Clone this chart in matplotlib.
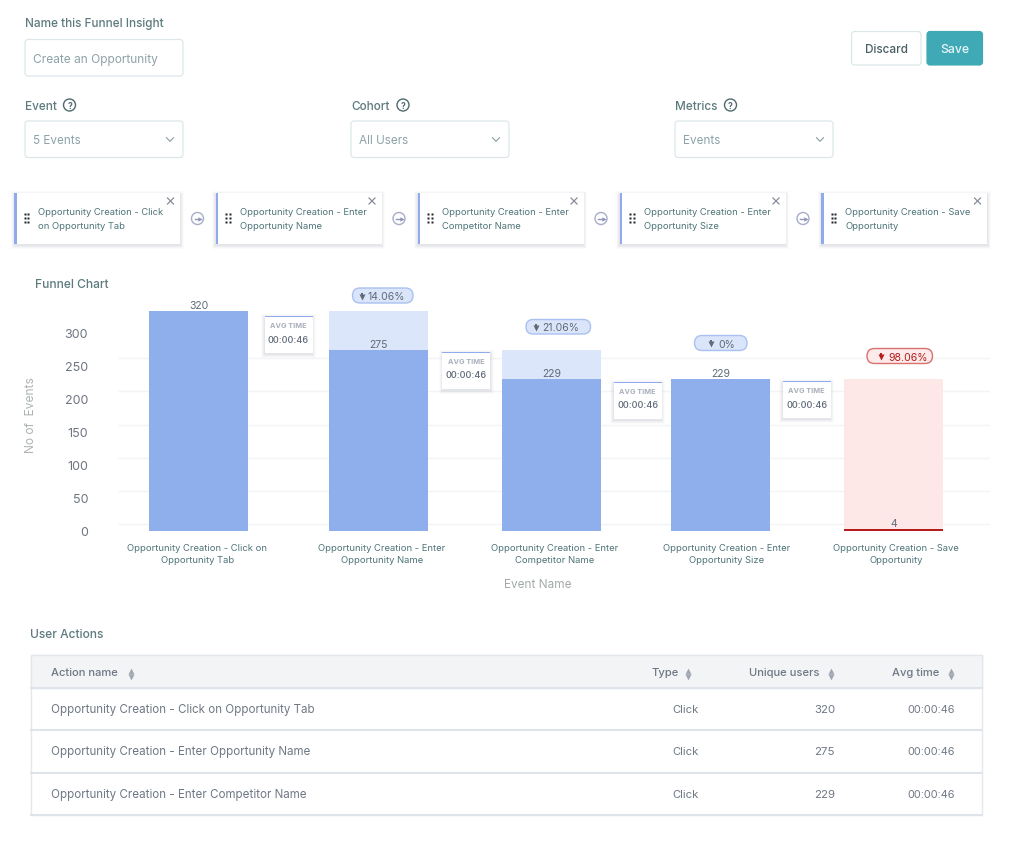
import numpy as np
import matplotlib
matplotlib.use("Agg")
import matplotlib.pyplot as plt
from matplotlib.patches import FancyBboxPatch, Rectangle, Circle
from matplotlib.transforms import ScaledTranslation

plt.rcParams['font.family'] = ['Inter', 'DejaVu Sans']

# ---- data ----
tick_labels = ["Opportunity Creation - Click on\nOpportunity Tab",
               "Opportunity Creation - Enter\nOpportunity Name",
               "Opportunity Creation - Enter\nCompetitor Name",
               "Opportunity Creation - Enter\nOpportunity Size",
               "Opportunity Creation - Save\nOpportunity"]
chip_labels = ["Opportunity Creation - Click\non Opportunity Tab",
               "Opportunity Creation - Enter\nOpportunity Name",
               "Opportunity Creation - Enter\nCompetitor Name",
               "Opportunity Creation - Enter\nOpportunity Size",
               "Opportunity Creation - Save\nOpportunity"]
value_labels = [320, 275, 229, 229, 4]
bar_values = [332, 273, 229, 229, 3]       # heights as read on the y axis
ghost_values = [0, 332, 273, 229, 229]     # previous step, behind each bar
drop_labels = [None, "14.06%", "21.06%", "0%", "98.06%"]
avg_times = ["00:00:46", "00:00:46", "00:00:46", "00:00:46"]
y_ticks = [0, 50, 100, 150, 200, 250, 300]
table_names = ["Opportunity Creation - Click on Opportunity Tab",
               "Opportunity Creation - Enter Opportunity Name",
               "Opportunity Creation - Enter Competitor Name"]
table_types = ["Click", "Click", "Click"]
table_users = [320, 275, 229]
table_times = ["00:00:46", "00:00:46", "00:00:46"]

# ---- colours / layout ----
BLUE, GHOST, PINK, RED = "#8fafec", "#dce6fa", "#fee7e7", "#b51c1c"
LABEL, MUTED, EDGE = "#5d7a7f", "#8da3a8", "#dbe6e9"
SLATE = "#5f6b78"
def fs(px):
    return px * 0.72

fig = plt.figure(figsize=(10.24, 8.53), dpi=100, facecolor="white")

# ---- chart axes ----
ax = fig.add_axes([118/1024, (853-532)/853, 872/1024, 232/853], facecolor="none")
x = np.arange(5)
x_nudge = np.array([0, .032, .029, .004, 0])
label_nudge = np.array([-.009, .053, .05, .036, .013])
ax.set_xlim(-0.465, 4.554)
ax.set_ylim(0, 232/0.6633)
grid_shift = ax.transData + ScaledTranslation(0, 7/100, fig.dpi_scale_trans)
ax.hlines(y_ticks[:-1], -0.465, 4.554, color="#f3f4f5", lw=1, transform=grid_shift, zorder=0)
bw = 0.57
ghost_cols = [GHOST, GHOST, GHOST, GHOST, PINK]
ax.bar(x + x_nudge, ghost_values, bw, color=ghost_cols, zorder=2)
main_cols = [BLUE, BLUE, BLUE, BLUE, RED]
ax.bar(x + x_nudge, bar_values, bw, color=main_cols, zorder=3)
for xi, top, lab in zip(x + x_nudge, bar_values, value_labels):
    ax.annotate(str(lab), (xi, top), xytext=(0, 0.8), textcoords="offset points", ha="center",
                va="bottom", fontsize=fs(10.5), color=SLATE, zorder=5, annotation_clip=False)
for s in ax.spines.values():
    s.set_visible(False)
ax.set_yticks(y_ticks)
ax.tick_params(axis="y", length=0, pad=21.6, labelsize=fs(12.5), labelcolor="#6e7480")
ax.set_xticks(x + label_nudge, tick_labels, fontsize=fs(9.45), color="#4f7479", linespacing=1.48)
ax.tick_params(axis="x", length=0, pad=8.5)

# ---- overlay in pixel coordinates ----
ov = fig.add_axes([0, 0, 1, 1], facecolor="none")
ov.set_xlim(0, 1024)
ov.set_ylim(852, -1)
ov.axis("off")

def T(xp, yp, s, size=12, color=LABEL, ha="left", weight="normal", **kw):
    ov.text(xp, yp + 0.5, s, fontsize=fs(size), color=color, ha=ha, va="center", weight=weight, **kw)

def box(x0, y0, x1, y1, fc="white", ec=EDGE, lw=0.85, r=3, z=2):
    ov.add_patch(FancyBboxPatch((x0, y0), x1-x0, y1-y0, boxstyle=f"round,pad=0,rounding_size={r}",
                                fc=fc, ec=ec, lw=lw, zorder=z, mutation_aspect=1))

def shadow(x0, y0, x1, y1, z=3):
    for g, a in [(3.5, .025), (2.5, .035), (1.5, .05), (0.5, .06)]:
        ov.add_patch(Rectangle((x0-g, y0-g+1.5), x1-x0+2*g, y1-y0+2*g, fc="#5a6a80", ec="none",
                               alpha=a, zorder=z))

def chevron(cx, cy):
    ov.plot([cx-3.5, cx, cx+3.5], [cy-1.8, cy+1.8, cy-1.8], color="#8a9ca0", lw=0.8, zorder=4)

def help_icon(cx, cy):
    ov.add_patch(Circle((cx, cy), 6, fc="white", ec="#4f6a6e", lw=1, zorder=4))
    ov.text(cx, cy + .2, "?", fontsize=fs(8.5), color="#4f6a6e", ha="center", va="center", weight="bold", zorder=5)

# header
T(25, 22, "Name this Funnel Insight", 11.7, weight="medium")
box(25, 39.5, 183, 76)
T(33, 58, "Create an Opportunity", 11.9, MUTED)
box(851.5, 31.5, 921, 65)
T(886, 48, "Discard", 11.7, "#4a5f63", ha="center", weight="medium")
box(927, 31.5, 982.5, 65, fc="#3fa9b6", ec="#3fa9b6")
T(954.5, 48, "Save", 12.2, "#e6f6f8", ha="center", weight="medium")

for lx, hx, bx, lab, val in [(25, 69.5, 25, "Event", "5 Events"),
                             (351, 403, 351, "Cohort", "All Users"),
                             (675, 730.5, 675, "Metrics", "Events")]:
    T(lx, 105, lab, 11.8, weight="medium")
    help_icon(hx, 105)
    box(bx, 121, bx+158, 157.5)
    T(bx+8, 139, val, 11.7, MUTED)
    chevron(bx+145, 139.5)

# event chips
chip_x = [14, 215.5, 417.5, 619.5, 821]
for i, (cx, lab) in enumerate(zip(chip_x, chip_labels)):
    shadow(cx, 193, cx+166, 244)
    ov.add_patch(Rectangle((cx, 193), 166, 51, fc="white", ec="none", zorder=4))
    ov.add_patch(Rectangle((cx, 193), 2.6, 51, fc="#8fabee", ec="none", zorder=5))
    for dx in (10.7, 14.2):
        ov.plot([cx+dx]*3, [214, 218, 222], ls="none", marker="s", ms=1.5, color="#20252a", mec="none", zorder=5)
    l1, l2 = lab.split("\n")
    T(cx+24.3, 211, l1, 9.4, "#4f7479", zorder=5)
    T(cx+24.3, 225, l2, 9.4, "#4f7479", zorder=5)
    ov.plot([cx+153.5, cx+159.5], [198, 204], color="#868d99", lw=0.9, zorder=5)
    ov.plot([cx+153.5, cx+159.5], [204, 198], color="#868d99", lw=0.9, zorder=5)
    if i < 4:
        ax_c = cx + 183.5
        ov.add_patch(Circle((ax_c, 218.5), 6, fc="white", ec="#a8adc9", lw=1, zorder=4))
        ov.plot([ax_c-3, ax_c+1.5], [218.5, 218.5], color="#9297b8", lw=1, zorder=5)
        ov.plot([ax_c+2.5], [218.5], marker=">", ms=3.2, color="#9297b8", mec="none", zorder=5)

# chart texts
T(35, 283, "Funnel Chart", 12, weight="medium")
ov.text(31.5, 414, "No of  Events", fontsize=fs(12), color="#adb3b4", ha="center", va="center", rotation=90)
T(538, 583, "Event Name", 11.8, "#a3a9aa", ha="center")

# avg-time cards
cards = [(264.5, 316), (442, 351.5), (613.8, 382), (782.7, 381)]
for (cx, cy), t in zip(cards, avg_times):
    shadow(cx, cy, cx+48, cy+37, z=6)
    ov.add_patch(Rectangle((cx, cy), 48, 37, fc="white", ec="none", zorder=7))
    ov.add_patch(Rectangle((cx, cy), 48, 1.4, fc="#8fabee", ec="none", zorder=8))
    T(cx+24, cy+8.5, "AVG TIME", 7.3, "#a9afbc", ha="center", weight="bold", zorder=8)
    T(cx+24, cy+22.5, t, 9.2, SLATE, ha="center", weight="medium", zorder=8)

# drop badges
pills = [None, (352.5, 288, 413, 303, 362, 368), (526, 319.5, 590.5, 334, 536, 542),
         (694.5, 335.5, 747, 350.5, 710.5, 718.5), (867, 348.5, 932.5, 363.5, 880.5, 888)]
for i, (p, lab) in enumerate(zip(pills, drop_labels)):
    if p is None:
        continue
    x0, y0, x1, y1, ax_, tx = p
    red = i == 4
    fc, ec, tc = ("#fdeaea", "#d9716f", RED) if red else ("#dbe5fa", "#a9c1f1", SLATE)
    box(x0, y0, x1, y1, fc=fc, ec=ec, lw=1, r=(y1-y0)/2, z=6)
    ym = (y0+y1)/2
    ov.plot([ax_, ax_], [ym-2.8, ym+0.5], color=tc, lw=1.4, zorder=7, solid_capstyle="butt")
    ov.plot([ax_], [ym+1.2], marker="v", ms=4, color=tc, mec="none", zorder=7)
    T(tx, ym, lab, 10.5, tc, zorder=7)

# table
T(30.5, 633, "User Actions", 12, weight="medium")
ov.add_patch(Rectangle((31, 655), 951, 159.5, fc="white", ec="#e4e7ec", lw=1, zorder=1))
ov.add_patch(Rectangle((31, 655), 951, 33, fc="#f3f4f6", ec="#e4e7ec", lw=1, zorder=2))
for yl in (688, 730, 772.5, 814.5):
    ov.plot([31, 982], [yl, yl], color="#dfe3ea", lw=1.5, zorder=3)

def sort_icon(cx, cy):
    ov.plot([cx], [cy-3], marker="^", ms=4.6, color="#a0a6b2", mec="none", zorder=4)
    ov.plot([cx], [cy+3], marker="v", ms=4.6, color="#a0a6b2", mec="none", zorder=4)

HD = "#6d7785"
T(51, 671.5, "Action name", 11.2, HD, weight="medium"); sort_icon(130.5, 674)
T(651, 671.5, "Type", 11.2, HD, weight="medium"); sort_icon(688, 674)
T(749, 671.5, "Unique users", 11.2, HD, weight="medium"); sort_icon(831, 674)
T(892, 671.5, "Avg time", 11.2, HD, weight="medium"); sort_icon(951, 674)
for yr, n, ty, u, tm in zip((708.5, 750.5, 793.5), table_names, table_types, table_users, table_times):
    T(51, yr, n, 11.6, "#6f7885")
    T(698.5, yr, ty, 11.2, "#6f7885", ha="right")
    T(835, yr, str(u), 11.4, "#6f7885", ha="right")
    T(955, yr, tm, 10.9, "#6f7885", ha="right")

fig.savefig("out.png", dpi=100)
